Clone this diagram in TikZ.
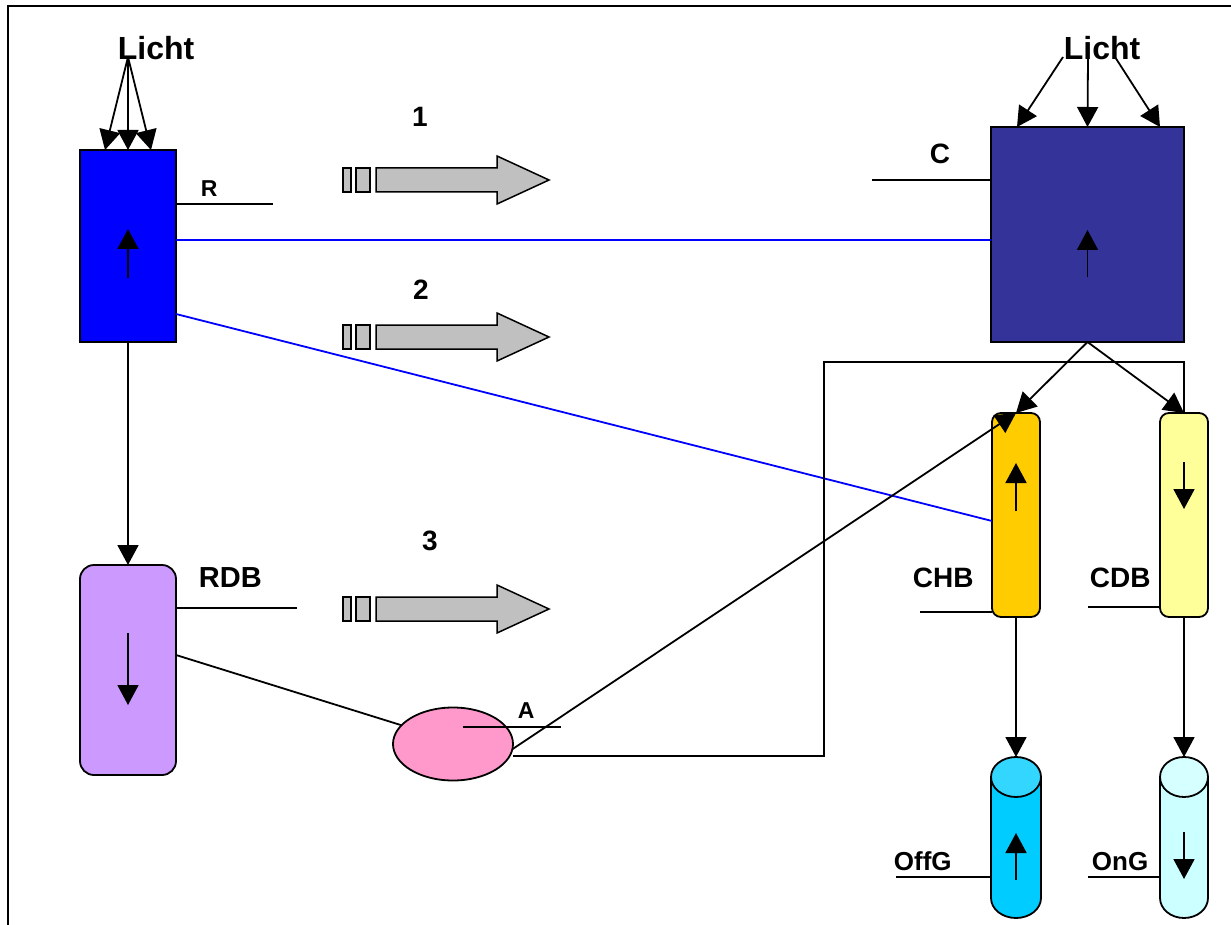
\documentclass[tikz,border=0pt]{standalone}
\usepackage{fontspec}
\setmainfont{Liberation Sans}
\usetikzlibrary{arrows.meta,shapes.geometric}
\definecolor{rblue}{RGB}{0,0,255}
\definecolor{cblue}{RGB}{51,51,153}
\definecolor{rdbcol}{RGB}{204,153,255}
\definecolor{chbcol}{RGB}{255,204,0}
\definecolor{cdbcol}{RGB}{255,255,153}
\definecolor{offgcol}{RGB}{0,204,255}
\definecolor{offgtop}{RGB}{51,214,255}
\definecolor{ongcol}{RGB}{204,255,255}
\definecolor{ongtop}{RGB}{214,255,255}
\definecolor{pinkcol}{RGB}{255,153,204}
\definecolor{graycol}{RGB}{192,192,192}
\begin{document}
\begin{tikzpicture}[x=1pt,y=-1pt,line width=1.8pt,
  shp/.style={draw,inner sep=0pt,outer sep=0pt},
  tri/.style={-{Triangle[length=20pt,width=21pt]}},
  blueline/.style={draw=rblue,line width=1.8pt},
  lab/.style={inner sep=0pt,anchor=base west,font=\bfseries\fontsize{28}{30}\selectfont},
  biglab/.style={lab,font=\bfseries\fontsize{32}{34}\selectfont},
  smalllab/.style={lab,font=\bfseries\fontsize{23}{25}\selectfont},
  blockarrow/.style={draw,fill=graycol,line width=1.5pt}]
\useasboundingbox (0,0) rectangle (1231,925);
% frame
\draw[line width=1.8pt] (8,925) -- (8,6) -- (1231,6);

% boxes
\node[shp,fill=rblue,minimum width=96pt,minimum height=192pt] (r) at (128,246) {};
\node[shp,fill=cblue,minimum width=193pt,minimum height=215pt] (c) at (1087.5,234.5) {};
\node[shp,fill=rdbcol,rounded corners=14pt,minimum width=96pt,minimum height=210pt] (rdb) at (128,670) {};
\node[shp,fill=pinkcol,ellipse,minimum width=120pt,minimum height=73pt] (a) at (453,744) {};
\node[shp,fill=chbcol,rounded corners=9pt,minimum width=48pt,minimum height=204pt] (chb) at (1016,515) {};
\node[shp,fill=cdbcol,rounded corners=9pt,minimum width=48pt,minimum height=204pt] (cdb) at (1184,515) {};

% cylinders
\node[inner sep=0pt,outer sep=0pt,minimum width=50pt,minimum height=161pt] (offg) at (1016,837.5) {};
\node[inner sep=0pt,outer sep=0pt,minimum width=48pt,minimum height=161pt] (ong) at (1184,837.5) {};
\fill[offgcol] (1016,898) ellipse [x radius=25pt,y radius=20pt];
\fill[offgcol] (991,777) rectangle (1041,898);
\begin{scope}
  \clip (980,898) rectangle (1050,930);
  \draw (1016,898) ellipse [x radius=25pt,y radius=20pt];
\end{scope}
\draw (991,777) -- (991,898) (1041,777) -- (1041,898);
\draw[fill=offgtop] (1016,777) ellipse [x radius=25pt,y radius=20pt];

\fill[ongcol] (1184,898) ellipse [x radius=24pt,y radius=20pt];
\fill[ongcol] (1160,777) rectangle (1208,898);
\begin{scope}
  \clip (1150,898) rectangle (1220,930);
  \draw (1184,898) ellipse [x radius=24pt,y radius=20pt];
\end{scope}
\draw (1160,777) -- (1160,898) (1208,777) -- (1208,898);
\draw[fill=ongtop] (1184,777) ellipse [x radius=24pt,y radius=20pt];

% internal arrows
\draw[tri] ([yshift=-32pt]r.center) -- ([yshift=17pt]r.center);
\draw[tri] ([yshift=-42.5pt]c.center) -- ([yshift=4.5pt]c.center);
\draw[tri] ([yshift=37pt]rdb.center) -- ([yshift=-35pt]rdb.center);
\draw[tri] ([yshift=4pt]chb.center) -- ([yshift=52pt]chb.center);
\draw[tri] ([yshift=53pt]cdb.center) -- ([yshift=6pt]cdb.center);
\draw[tri] ([yshift=-42.5pt]offg.center) -- ([yshift=4.5pt]offg.center);
\draw[tri] ([yshift=5.5pt]ong.center) -- ([yshift=-41.5pt]ong.center);

% Licht labels and arrows
\node[biglab] (lichtl) at (117,60) {Licht};
\node[biglab] (lichtr) at (1063,60) {Licht};
\coordinate (ll) at (128,57);
\coordinate (lr1) at (1063,57);
\coordinate (lr2) at (1088,57);
\coordinate (lr3) at (1115,57);
\draw[tri] (ll) -- ([xshift=-23pt]r.north);
\draw[tri] (ll) -- (r.north);
\draw[tri] (ll) -- ([xshift=23pt]r.north);
\draw[tri] (lr1) -- ([xshift=-70.5pt]c.north);
\draw[tri] (lr2) -- (c.north);
\draw[tri] (lr3) -- ([xshift=72.5pt]c.north);

% block arrows
\foreach \yy in {180,337,609} {
  \draw[blockarrow] (343,\yy-12) rectangle (351,\yy+12);
  \draw[blockarrow] (356,\yy-12) rectangle (370,\yy+12);
  \draw[blockarrow] (376,\yy-12) -- (497,\yy-12) -- (497,\yy-24) -- (549,\yy)
    -- (497,\yy+24) -- (497,\yy+12) -- (376,\yy+12) -- cycle;
}
\node[lab,anchor=base] (n1) at (420,127) {1};
\node[lab,anchor=base] (n2) at (421,299) {2};
\node[lab,anchor=base] (n3) at (430,550) {3};

% labels with leader lines
\node[smalllab] (rl) at (200,197) {R};
\draw ([yshift=42pt]r.east) -- ++(97,0);
\node[lab] (cl) at (929,164) {C};
\draw (872,180) -- ([yshift=54.5pt]c.west);
\node[lab,font=\bfseries\fontsize{29}{31}\selectfont] (rdbl) at (198,587) {RDB};
\draw ([yshift=62pt]rdb.east) -- ++(121,0);
\node[smalllab] (al) at (517,718) {A};
\draw (463,727) -- (561,727);
\node[lab] (chbl) at (912,587) {CHB};
\draw (920,612) -- ([yshift=-97pt]chb.west);
\node[lab] (cdbl) at (1089,587) {CDB};
\draw (1088,607) -- ([yshift=-92pt]cdb.west);
\node[lab,font=\bfseries\fontsize{26}{28}\selectfont] (offgl) at (893,870) {OffG};
\draw (896,877) -- (991,877);
\node[lab,font=\bfseries\fontsize{26}{28}\selectfont] (ongl) at (1091,870) {OnG};
\draw (1088,877) -- (1160,877);

% blue lines
\draw[blueline] ([yshift=6pt]r.east) -- ([yshift=6pt]r.east -| c.west);
\draw[blueline] ([yshift=-68pt]r.east) -- ([yshift=-6pt]chb.west);

% connectors
\draw[tri] (r.south) -- (rdb.north);
\draw (rdb.east |- 0,655) -- (a.160);
\draw[tri] (a.-5) -- (chb.north);
\coordinate (w1) at (824,362);
\draw ([yshift=-12pt]a.east) -| (w1) -- (w1 -| cdb.north) -- (cdb.north);
\draw[tri] (c.south) -- (chb.north);
\draw[tri] (c.south) -- (cdb.north);
\draw[tri] (chb.south) -- (offg.north);
\draw[tri] (cdb.south) -- (ong.north);
\end{tikzpicture}
\end{document}
